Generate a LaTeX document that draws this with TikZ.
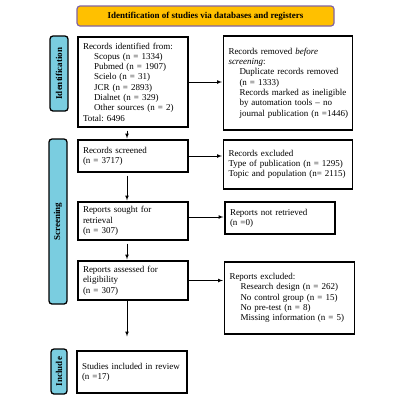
\documentclass[tikz,border=0pt]{standalone}
\usepackage{fontspec}
\setmainfont{Liberation Serif}
\usepackage{tikz}
\usetikzlibrary{arrows,positioning}

\definecolor{bannerfill}{RGB}{255,192,0}
\definecolor{bannerline}{RGB}{128,100,162}
\definecolor{phasefill}{RGB}{122,205,224}
\frenchspacing

\begin{document}
\begin{tikzpicture}[x=1pt,y=-1pt,->,>=latex,shorten >=1pt,
      font=\fontsize{9}{10.3}\selectfont,
      box/.style={draw,line width=1.1pt,align=left,inner xsep=5pt,inner ysep=2pt},
      phase/.style={draw,line width=1.3pt,fill=phasefill,rounded corners=3pt,rotate=90,font=\fontsize{9}{10.3}\selectfont\bfseries,inner sep=0pt},
      banner/.style={draw=bannerline,line width=1.2pt,fill=bannerfill,rounded corners=3pt,font=\fontsize{9}{10.3}\selectfont\bfseries}]
    \useasboundingbox (0,0) rectangle (400,400);

      \node[banner,minimum width=257pt,minimum height=20pt] (banner) at (205.5,16) {Identification of studies via databases and registers};

      \node[phase,minimum width=75pt,minimum height=18pt] (idbar) at (59,73.5) {Identification};
      \node[phase,minimum width=165pt,minimum height=18pt] (screenbar) at (58,221.5) {Screening};
      \node[phase,minimum width=45pt,minimum height=16pt] (incbar) at (59,371.5) {Include};

      \node[box,text width=100pt,minimum height=90pt] (identified) at (133,82) {Records identified from:\\
	\hspace*{11pt}Scopus (n = 1334)\\
	\hspace*{11pt}Pubmed (n = 1907)\\
	\hspace*{11pt}Scielo (n = 31)\\
	\hspace*{11pt}JCR (n = 2893)\\
	\hspace*{11pt}Dialnet (n = 329)\\
	\hspace*{11pt}Other sources (n = 2)\\
	Total: 6496};
      \node[box,text width=119pt,minimum height=94pt] (removed) at (288,83) {Records removed \textit{before}\\
	\textit{screening}:\\
	\hspace*{11pt}Duplicate records removed\\
	\hspace*{11pt}(n = 1333)\\
	\hspace*{11pt}Records marked as ineligible\\
	\hspace*{11pt}by automation tools -- no\\
	\hspace*{11pt}\mbox{journal publication (n =1446)}};

      \node[box,text width=100pt,minimum height=32pt] (screened) at (133,156) {Records screened\\(n = 3717)};
      \node[box,text width=119pt,minimum height=49pt] (excluded) at (288,164.5) {Records excluded\\
	Type of publication (n = 1295)\\
	Topic and population (n= 2115)};

      \node[box,text width=100pt,minimum height=38pt] (sought) at (133,221) {Reports sought for\\retrieval\\(n = 307)};
      \node[box,text width=100pt,minimum height=32pt] (notretrieved) at (280,218) {Reports not retrieved\\(n =0)};

      \node[box,text width=100pt,minimum height=39pt] (assessed) at (133,280.5) {Reports assessed for\\eligibility\\(n = 307)};
      \node[box,text width=120pt,minimum height=72pt] (reportsexcl) at (289.5,298) {Reports excluded:\\
	\hspace*{11pt}Research design (n = 262)\\
	\hspace*{11pt}No control group (n = 15)\\
	\hspace*{11pt}No pre-test (n = 8)\\
	\hspace*{11pt}Missing information (n = 5)};

      \node[box,text width=100pt,minimum height=42pt] (included) at (132,372) {Studies included in review\\(n =17)};

      \foreach \from/\to in {identified/removed,screened/excluded,assessed/reportsexcl}
	\draw[line width=0.7pt] (\from.east) -- (\from.east -| \to.west);
      \draw[line width=0.7pt] ([yshift=4pt]sought.east) -- ([yshift=4pt]sought.east -| notretrieved.west);

      \foreach \from/\to in {identified/screened,screened/sought,sought/assessed}
	\draw[line width=0.7pt,shorten <=3pt] ([xshift=-6pt]\from.south) -- ([xshift=-6pt]\to.north);
      \draw[line width=0.7pt,shorten >=14pt] ([xshift=-6pt]assessed.south) -- ([xshift=-5pt]included.north);

    \end{tikzpicture}
\end{document}
